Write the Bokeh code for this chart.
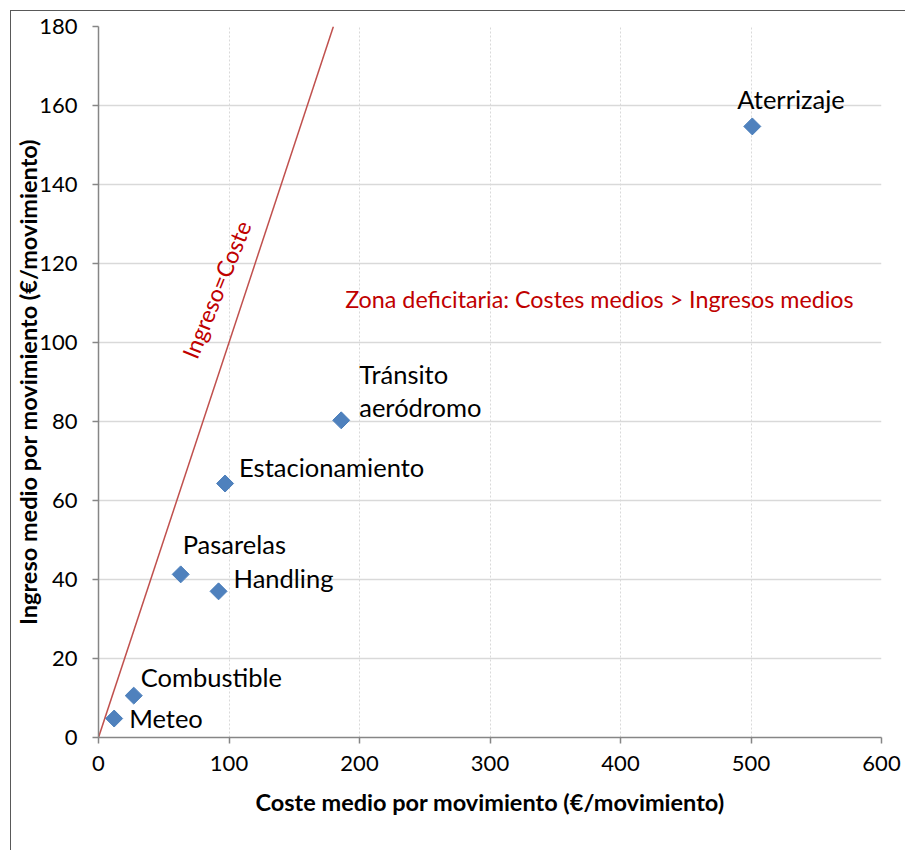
import math
from bokeh.plotting import figure
from bokeh.models import ColumnDataSource, FixedTicker, Label
from bokeh.core.properties import value
from bokeh.embed import file_html
from bokeh.resources import INLINE

# Data
names = ["Meteo", "Combustible", "Pasarelas", "Handling", "Estacionamiento", "Tránsito\naeródromo", "Aterrizaje"]
coste = [12, 27, 63, 92, 97, 186, 501]
ingreso = [4.8, 10.6, 41.3, 37.0, 64.3, 80.3, 154.7]
label_dx = [15, 7, 2, 15, 14, 18, -15]
label_dy = [-1, -19, -30, -13, -17, -30, -27]
line_x = [0, 180]
line_y = [0, 180]
x_ticks = [0, 100, 200, 300, 400, 500, 600]
y_ticks = [0, 20, 40, 60, 80, 100, 120, 140, 160, 180]

FONT = "Lato"

p = figure(width=895, height=840, x_range=(0, 600), y_range=(0, 180),
           output_backend="svg", toolbar_location=None,
           min_border_left=86, min_border_right=25, min_border_top=15, min_border_bottom=114)
p.styles = {"border-left": "1px solid #595959", "border-top": "1px solid #595959",
            "margin-left": "10px", "margin-top": "10px"}
p.outline_line_color = None

p.xaxis.ticker = FixedTicker(ticks=x_ticks)
p.yaxis.ticker = FixedTicker(ticks=y_ticks)
p.xgrid.ticker = FixedTicker(ticks=x_ticks)
p.ygrid.ticker = FixedTicker(ticks=y_ticks)
p.xgrid.grid_line_color = "#d9d9d9"
p.xgrid.grid_line_dash = "2 2"
p.ygrid.grid_line_color = "#d9d9d9"
p.ygrid.grid_line_width = 1.5

for ax in (p.xaxis, p.yaxis):
    ax.axis_line_color = "#868686"
    ax.axis_line_width = 1.5
    ax.major_tick_line_color = "#868686"
    ax.major_tick_line_width = 1.5
    ax.major_tick_in = 0
    ax.major_tick_out = 6
    ax.minor_tick_line_color = None
    ax.major_label_text_font = FONT
    ax.major_label_text_font_size = "22px"
    ax.major_label_text_color = "black"
    ax.axis_label_text_font = FONT
    ax.axis_label_text_font_style = "bold"
    ax.axis_label_text_font_size = "23.5px"
    ax.axis_label_text_color = "black"

p.xaxis.axis_label = "Coste medio por movimiento (€/movimiento)"
p.yaxis.axis_label = "Ingreso medio por movimiento (€/movimiento)"
p.xaxis.major_label_standoff = 12
p.yaxis.major_label_standoff = 15
p.xaxis.axis_label_standoff = 14
p.yaxis.axis_label_standoff = -6

p.line(line_x, line_y, line_color="#c0504d", line_width=1.5)

src = ColumnDataSource(dict(x=coste, y=ingreso, name=names, dx=label_dx, dy=label_dy))
p.scatter("x", "y", source=src, marker="square", size=12, angle=math.pi / 4,
          fill_color="#4f81bd", line_color="#4a7ebb", line_width=1)
p.text("x", "y", text="name", source=src, x_offset="dx", y_offset="dy",
       text_font=value(FONT), text_font_size="25.5px", text_color="black",
       text_align="left", text_baseline="middle", text_line_height=1.1)

p.add_layout(Label(x=189, y=111, text="Zona deficitaria: Costes medios > Ingresos medios",
                   text_font=FONT, text_font_size="23.3px", text_color="#c00000",
                   text_align="left", text_baseline="middle"))
p.add_layout(Label(x=90.3, y=113.4, text="Ingreso=Coste", angle=68, angle_units="deg",
                   text_font=FONT, text_font_size="23px", text_color="#c00000",
                   text_align="center", text_baseline="middle"))

open("out.html", "w").write(file_html(p, INLINE))
